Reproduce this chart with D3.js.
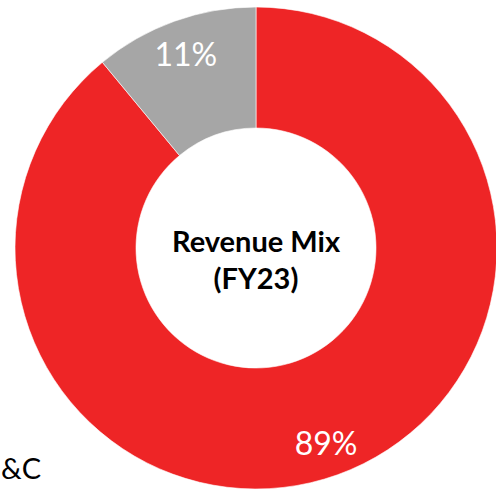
<!DOCTYPE html>
<html><head><meta charset="utf-8">
<script src="https://cdn.jsdelivr.net/npm/d3@7"></script>
<style>html,body{margin:0;padding:0;background:#fff;overflow:hidden}</style>
</head><body>
<svg id="chart" width="496" height="491"></svg>
<script>
const categories = ["Main", "Other"];
const values = [89, 11];
const valueLabels = ["89%", "11%"];
const colors = ["#EE2526", "#A6A6A6"];
const centerLines = ["Revenue Mix", "(FY23)"];
const legendText = "&C";

const svg = d3.select("#chart");
const cx = 256, cy = 248, outerR = 241, innerR = 120, labelR = 207;
const g = svg.append("g").attr("transform", `translate(${cx},${cy})`);
const pie = d3.pie().sort(null).value(d => d)(values);
const arc = d3.arc().innerRadius(innerR).outerRadius(outerR);
const lblArc = d3.arc().innerRadius(labelR).outerRadius(labelR);
g.selectAll("path").data(pie).join("path")
  .attr("d", arc).attr("fill", (d,i) => colors[i])
  .attr("stroke", "#fff").attr("stroke-width", 0.6);
g.selectAll("text.lbl").data(pie).join("text").attr("class","lbl")
  .attr("transform", d => `translate(${lblArc.centroid(d)})`)
  .attr("text-anchor","middle").attr("dominant-baseline","central")
  .attr("fill","#fff").attr("font-family","Lato, sans-serif").attr("font-size", 32)
  .text((d,i) => valueLabels[i]);
g.selectAll("text.ctr").data(centerLines).join("text").attr("class","ctr")
  .attr("x", 0).attr("y", (d,i) => -8 + i*37)
  .attr("text-anchor","middle").attr("dominant-baseline","central")
  .attr("fill","#000").attr("font-family","Lato, sans-serif").attr("font-weight","bold").attr("font-size", 29)
  .text(d => d);
svg.append("text").attr("x", 1).attr("y", 479).attr("text-anchor","start")
  .attr("font-family","Lato, sans-serif").attr("font-size", 29).attr("fill","#000").text(legendText);
</script>
</body></html>
